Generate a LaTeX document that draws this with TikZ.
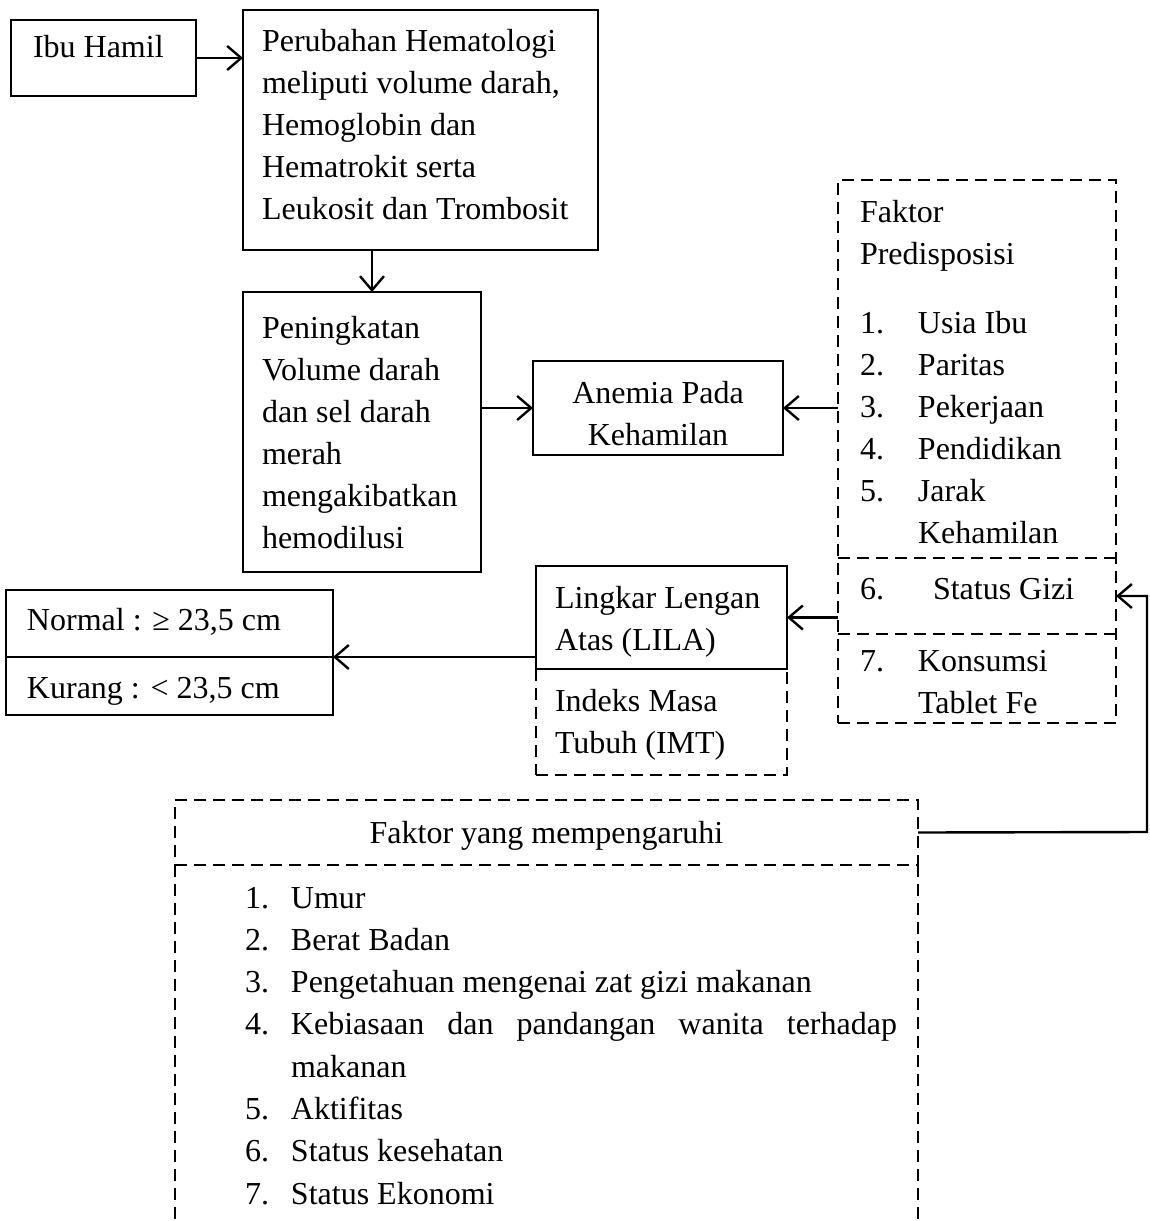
\documentclass[tikz,border=0pt]{standalone}
\usepackage{fontspec}
\setmainfont{Liberation Serif}
\usetikzlibrary{arrows.meta}
\begin{document}
\begin{tikzpicture}[x=1pt,y=-1pt,
  every node/.style={font=\fontsize{32}{42}\selectfont, inner sep=0pt, outer sep=0pt},
  solidbox/.style={draw, line width=1.5pt, rectangle, anchor=north west},
  dashbox/.style={draw, line width=2.4pt, dash pattern=on 12pt off 7pt, rectangle, anchor=north west},
  areabox/.style={rectangle, anchor=north west},
  dashline/.style={line width=2.4pt, dash pattern=on 12pt off 7pt},
  txt/.style={anchor=base west, align=left, text width=#1,
    execute at begin node={\spaceskip=0pt\xspaceskip=0pt\relax}},
  txt/.default=700pt,
  conn/.style={line width=2.4pt, -{Straight Barb[length=14pt,width=24pt]}},
]
\useasboundingbox (0,0) rectangle (1150,1221);

% boxes
\node[solidbox, minimum width=185pt, minimum height=76pt] (ibu) at (11,20) {};
\node[solidbox, minimum width=355pt, minimum height=240pt] (peru) at (243,10) {};
\node[solidbox, minimum width=238pt, minimum height=280pt] (pen) at (243,292) {};
\node[solidbox, minimum width=250pt, minimum height=94pt] (anem) at (533,361) {};
\node[dashbox, minimum width=278pt, minimum height=543pt] (fp) at (838,180) {};
\node[areabox, minimum width=278pt, minimum height=76pt] (gizi) at (838,558) {};
\node[areabox, minimum width=278pt, minimum height=89pt] (fe) at (838,634) {};
\draw[dashline] (gizi.north west) -- (gizi.north east);
\draw[dashline] (fe.north west) -- (fe.north east);
\node[dashbox, minimum width=251pt, minimum height=106pt] (imt) at (536,669) {};
\node[solidbox, minimum width=251pt, minimum height=103pt] (lila) at (536,566) {};
\node[solidbox, minimum width=327pt, minimum height=67pt] (norm) at (6,590) {};
\node[solidbox, minimum width=327pt, minimum height=58pt] (kur) at (6,657) {};
\node[dashbox, minimum width=743pt, minimum height=65pt] (fymh) at (175,800) {};
\node[areabox, minimum width=743pt, minimum height=360pt] (fyma) at (175,865) {};
\draw[dashline] (fyma.north west) -- (fyma.south west);
\draw[dashline] (fyma.north east) -- (fyma.south east);

% texts
\node[txt] (tibu) at (33,57) {Ibu Hamil};
\node[txt] (tperu) at (262,51) {Perubahan Hematologi\\meliputi volume darah,\\Hemoglobin dan\\Hematrokit serta\\Leukosit dan Trombosit};
\node[txt] (tpen) at (262,338) {Peningkatan\\Volume darah\\dan sel darah\\merah\\mengakibatkan\\hemodilusi};
\node[txt=250pt] (tanem) at (533,403) {\hbox to 250pt{\hfil Anemia Pada\hfil}\\\hbox to 250pt{\hfil Kehamilan\hfil}};
\node[txt] (tfp) at (860,222) {Faktor\\Predisposisi};
\node[txt] (tfpl) at (860,333) {\makebox[58pt][l]{1.}Usia Ibu\\\makebox[58pt][l]{2.}Paritas\\\makebox[58pt][l]{3.}Pekerjaan\\\makebox[58pt][l]{4.}Pendidikan\\\makebox[58pt][l]{5.}Jarak\\\hspace*{58pt}Kehamilan};
\node[txt] (tgizi) at (860,599) {\makebox[73pt][l]{6.}Status Gizi};
\node[txt] (tfe) at (860,671) {\makebox[58pt][l]{7.}Konsumsi\\\hspace*{58pt}Tablet Fe};
\node[txt] (tlila) at (555,608) {Lingkar Lengan\\Atas (LILA)};
\node[txt] (timt) at (555,711) {Indeks Masa\\Tubuh (IMT)};
\node[txt] (tnorm) at (27,630) {Normal : ≥ 23,5 cm};
\node[txt] (tkur) at (27,698) {Kurang : < 23,5 cm};
\node[txt=743pt] (tfymh) at (175,843) {\hbox to 743pt{\hfil Faktor yang mempengaruhi\hfil}};
\node[txt, font=\fontsize{32}{42.3}\selectfont] (tfyml) at (245,908) {\makebox[46pt][l]{1.}Umur\\\makebox[46pt][l]{2.}Berat Badan\\\makebox[46pt][l]{3.}Pengetahuan mengenai zat gizi makanan\\\makebox[46pt][l]{4.}\hbox to 606pt{Kebiasaan\hfill dan\hfill pandangan\hfill wanita\hfill terhadap}\\\hspace*{46pt}makanan\\\makebox[46pt][l]{5.}Aktifitas\\\makebox[46pt][l]{6.}Status kesehatan\\\makebox[46pt][l]{7.}Status Ekonomi};

% connectors
\coordinate (bend) at (1147,832);
\draw[conn] (ibu.east) -- (ibu.east -| peru.west);
\draw[conn] ([xshift=10pt]pen.north |- peru.south) -- ([xshift=10pt]pen.north);
\draw[conn] (anem.west -| pen.east) -- (anem.west);
\draw[conn] (anem.east -| fp.west) -- (anem.east);
\draw[conn] (lila.east -| gizi.west) -- (lila.east);
\draw[conn] (kur.north east -| lila.west) -- (kur.north east);
\draw[conn] (fymh.east) -- (bend) |- (gizi.east);
\end{tikzpicture}
\end{document}
